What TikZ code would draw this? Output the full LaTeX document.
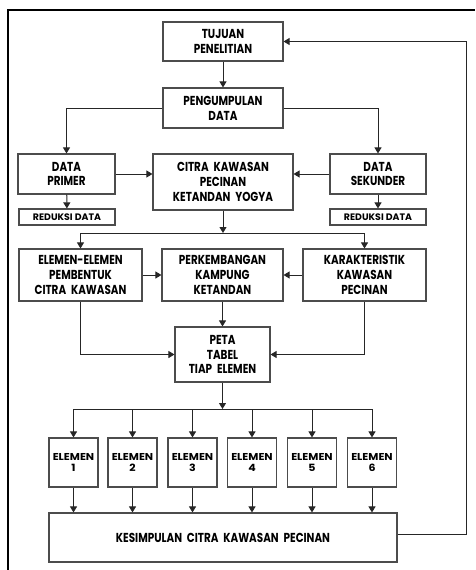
\documentclass[tikz,border=0pt]{standalone}
\usepackage{fontspec}
\setmainfont{Poppins}
\newfontfamily\gnarrow{Poppins}[FakeStretch=0.8, WordSpace=2.2]
\newfontfamily\gwide{Poppins}[FakeStretch=1.1]
\usetikzlibrary{arrows.meta,calc}
\tikzset{
  box/.style={draw=black!70, line width=1.1pt, inner sep=0pt, align=center,
    font=\gnarrow\fontsize{13}{14.8}\selectfont\bfseries},
  smallbox/.style={box, font=\fontsize{9.4}{10}\selectfont\bfseries},
  elbox/.style={box, minimum width=49pt, minimum height=49pt,
    font=\gwide\fontsize{10}{10.5}\selectfont\bfseries},
  arr/.style={draw=black!85, line width=1pt, -{Triangle[length=6pt,width=7pt]}},
  ln/.style={draw=black!85, line width=1pt},
}
\begin{document}
\begin{tikzpicture}[x=1pt,y=-1pt]
\useasboundingbox (0,0) rectangle (475,570);
\draw[line width=1.3pt] (8,570) -- (8,10) -- (475,10);

\node[box, minimum width=120pt, minimum height=39pt] (tujuan) at (223,41.5) {TUJUAN\\PENELITIAN};
\node[box, minimum width=120pt, minimum height=40pt] (kumpul) at (223,108) {PENGUMPULAN\\DATA};
\node[box, minimum width=97pt, minimum height=40pt] (primer) at (66.5,174) {DATA\\PRIMER};
\node[box, minimum width=140pt, minimum height=56pt] (citra) at (223,182) {CITRA KAWASAN\\PECINAN\\KETANDAN YOGYA};
\node[box, minimum width=96pt, minimum height=40pt] (sekunder) at (378,174) {DATA\\SEKUNDER};
\node[smallbox, minimum width=96pt, minimum height=16pt] (red1) at (67,217) {REDUKSI DATA};
\node[smallbox, minimum width=96pt, minimum height=16pt] (red2) at (378,217) {REDUKSI DATA};
\node[box, minimum width=123pt, minimum height=52pt] (elemen) at (80.5,275) {ELEMEN-ELEMEN\\PEMBENTUK\\CITRA KAWASAN};
\node[box, minimum width=121pt, minimum height=52pt] (perk) at (222.5,275) {PERKEMBANGAN\\KAMPUNG\\KETANDAN};
\node[box, minimum width=123pt, minimum height=52pt] (karak) at (364.5,275) {KARAKTERISTIK\\KAWASAN\\PECINAN};
\node[box, minimum width=95pt, minimum height=55pt] (peta) at (222.5,354.5) {PETA\\TABEL\\TIAP ELEMEN};
\node[elbox] (e1) at (73.5,462.5) {ELEMEN\\1};
\node[elbox] (e2) at (132.5,462.5) {ELEMEN\\2};
\node[elbox] (e3) at (192.5,462.5) {ELEMEN\\3};
\node[elbox] (e4) at (252,462.5) {ELEMEN\\4};
\node[elbox] (e5) at (312,462.5) {ELEMEN\\5};
\node[elbox] (e6) at (372,462.5) {ELEMEN\\6};
\node[box, minimum width=348pt, minimum height=49pt] (kes) at (223,537.5) {KESIMPULAN CITRA KAWASAN PECINAN};

\coordinate (j1) at (223,233);
\coordinate (j2) at (222.5,409);
\coordinate (fbtop) at (466,41.5);

\draw[arr] (tujuan) -- (kumpul);
\draw[arr] (kumpul.west) -| (primer.north);
\draw[arr] (kumpul.east) -| (sekunder.north);
\draw[arr] (primer.east) -- (primer.east -| citra.west);
\draw[arr] (sekunder.west) -- (sekunder.west -| citra.east);
\draw[arr] (primer) -- (red1);
\draw[arr] (sekunder) -- (red2);
\draw[arr] (citra.south) -- (j1);
\draw[ln] (j1 -| elemen.north) -- (j1 -| karak.north);
\draw[arr] (j1 -| elemen.north) -- (elemen.north);
\draw[arr] (j1 -| karak.north) -- (karak.north);
\draw[arr] (elemen.east) -- (perk.west);
\draw[arr] (karak.west) -- (perk.east);
\draw[arr] (perk) -- (peta);
\draw[arr] (elemen.south) |- (peta.west);
\draw[arr] (karak.south) |- (peta.east);
\draw[arr] (peta.south) -- (j2);
\draw[ln] (j2 -| e1.north) -- (j2 -| e6.north);
\foreach \i in {1,...,6}{
  \draw[arr] (j2 -| e\i.north) -- (e\i.north);
  \draw[arr] (e\i.south) -- (e\i.south |- kes.north);
}
\draw[arr] ([yshift=3.5pt]kes.east) -| (fbtop) -- (tujuan.east);
\end{tikzpicture}
\end{document}
